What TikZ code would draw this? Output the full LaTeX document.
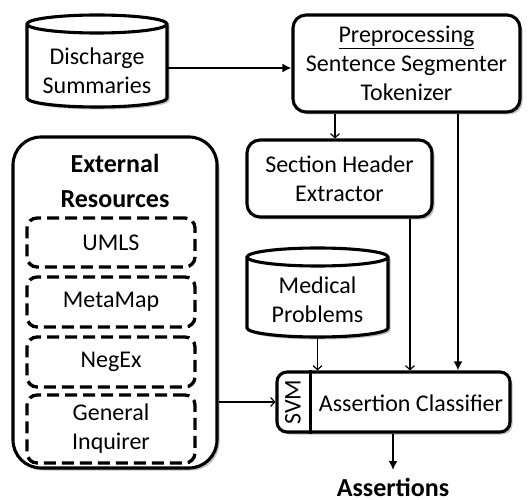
\documentclass[tikz,border=0pt]{standalone}
\usepackage{fontspec}
\setmainfont{Carlito}
\usetikzlibrary{arrows.meta,shadows}
\begin{document}
\begin{tikzpicture}[x=1pt,y=-1pt,
  txt/.style={font=\fontsize{24}{29}\selectfont, align=center},
  btxt/.style={font=\fontsize{26}{35}\selectfont\bfseries, align=center},
  shad/.style={drop shadow={shadow xshift=2.5pt, shadow yshift=-2.5pt, fill=black!35, opacity=.7}},
  procbox/.style={draw, line width=3.1pt, rounded corners=13pt, fill=white, shad, txt, inner sep=0pt},
  resbox/.style={draw, line width=3.3pt, dash pattern=on 12pt off 6pt, rounded corners=10pt, fill=white, txt, inner sep=0pt, minimum width=168pt},
  thinarr/.style={line width=1.2pt, -{Straight Barb[length=4pt,width=9pt]}},
  thickarr/.style={line width=2.6pt, -{Latex[length=9pt,width=9pt]}},
  cyl/.style={line width=3.1pt, fill=white, shad}
]
\useasboundingbox (0,0) rectangle (528,500);

% Discharge Summaries cylinder
\draw[cyl] (27,24) -- (27,98) arc[start angle=180, end angle=360, x radius=70, y radius=-9] -- (167,24) arc[start angle=0, end angle=180, x radius=70, y radius=-9] -- cycle;
\draw[line width=3.1pt] (27,24) arc[start angle=180, end angle=360, x radius=70, y radius=-9];
\node[minimum width=140pt, minimum height=92pt, inner sep=0pt] (ds) at (97,61) {};
\node[txt] (dst) at (97,71) {Discharge\\Summaries};

% Preprocessing
\node[procbox, minimum width=227pt, minimum height=97pt] (pre) at (406.5,63.5) {\underline{Preprocessing}\\Sentence Segmenter\\Tokenizer};

% Section header extractor
\node[procbox, minimum width=185pt, minimum height=77pt] (she) at (339.5,178.5) {Section Header\\Extractor};

% Medical problems cylinder
\draw[cyl] (247,257) -- (247,328) arc[start angle=180, end angle=360, x radius=70.5, y radius=-9] -- (388,257) arc[start angle=0, end angle=180, x radius=70.5, y radius=-9] -- cycle;
\draw[line width=3.1pt] (247,257) arc[start angle=180, end angle=360, x radius=70.5, y radius=-9];
\node[minimum width=141pt, minimum height=89pt, inner sep=0pt] (mp) at (317.5,292.5) {};
\node[txt] (mpt) at (317.5,300) {Medical\\Problems};

% Assertion classifier
\node[draw, line width=3.1pt, rounded corners=10pt, fill=white, shad, minimum width=233pt, minimum height=60pt, inner sep=0pt] (acl) at (393.5,402) {};
\draw[line width=2.2pt] ([xshift=35pt]acl.north west) -- ([xshift=35pt]acl.south west);
\node[txt, rotate=90] (svm) at ([xshift=17.5pt]acl.west) {SVM};
\node[txt] (aclt) at (411,403) {Assertion Classifier};

% Assertions
\node[btxt] (asr) at (393,487.5) {Assertions};

% External resources
\node[draw, line width=3.1pt, rounded corners=28pt, fill=white, shad, minimum width=204pt, minimum height=331pt, inner sep=0pt] (ext) at (115,302.5) {};
\node[btxt] (extt) at (115,181) {External\\Resources};
\node[resbox, minimum height=49pt] (umls) at (111,242.5) {UMLS};
\node[resbox, minimum height=50pt] (mm) at (111,302) {MetaMap};
\node[resbox, minimum height=50pt] (neg) at (111,362) {NegEx};
\node[resbox, minimum height=68pt] (gi) at (111,429) {General\\Inquirer};

% Connectors
\draw[thickarr] (ds.east |- 0,68) -- (pre.west |- 0,68);
\draw[thinarr] (pre.south -| 335,0) -- (she.north -| 335,0);
\draw[thickarr] (pre.south -| 458,0) -- (acl.north -| 458,0);
\draw[thinarr] (she.south -| 410,0) -- (acl.north -| 410,0);
\draw[thinarr] (mp.south) -- (acl.north -| mp.south);
\draw[thinarr] (ext.east |- acl.west) -- (acl.west);
\draw[thickarr] (acl.south -| 393,0) -- (393,470);
\end{tikzpicture}
\end{document}
